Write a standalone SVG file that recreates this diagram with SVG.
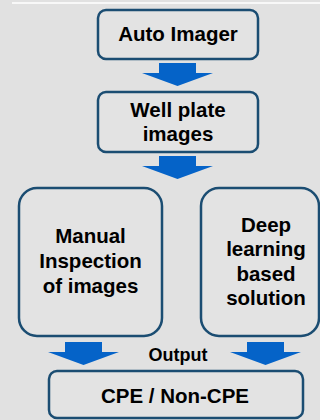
<svg xmlns="http://www.w3.org/2000/svg" width="320" height="420" viewBox="0 0 320 420">
  <style>
    .box { fill: #e3e3e3; stroke: #1b4d72; stroke-width: 2.5; }
    .lbl { font-family: "Liberation Sans", Arial, sans-serif; font-weight: bold; font-size: 20.5px; fill: #000; text-anchor: middle; }
    .arrow { fill: #0563c8; }
  </style>
  <defs>
    <!-- block arrow pointing down, origin at the tip -->
    <path id="down" d="M-18.5,-23 H18.5 V-13 H35.5 L0,0 L-35.5,-13 H-18.5 Z"/>
  </defs>
  <rect width="320" height="420" fill="#e1e1e1"/>
  <line x1="12" y1="3" x2="320" y2="3" stroke="#ffffff" stroke-width="1.5"/>

  <g id="connectors" class="arrow">
    <use href="#down" x="177.5" y="86"/>
    <use href="#down" x="177.5" y="179"/>
    <use href="#down" x="83.5" y="365"/>
    <use href="#down" x="265.5" y="365"/>
  </g>

  <g id="auto-imager">
    <rect class="box" x="98" y="10" width="160" height="49" rx="8"/>
    <text class="lbl" x="178" y="41">Auto Imager</text>
  </g>

  <g id="well-plate">
    <rect class="box" x="98" y="92" width="160" height="60" rx="8"/>
    <text class="lbl" x="178" y="117">Well plate</text>
    <text class="lbl" x="178" y="141">images</text>
  </g>

  <g id="manual-inspection">
    <rect class="box" x="19" y="188" width="143" height="148" rx="18"/>
    <text class="lbl" x="90.5" y="243">Manual</text>
    <text class="lbl" x="90.5" y="268">Inspection</text>
    <text class="lbl" x="90.5" y="293">of images</text>
  </g>

  <g id="deep-learning">
    <rect class="box" x="201" y="188" width="118" height="148" rx="18"/>
    <text class="lbl" x="266" y="232">Deep</text>
    <text class="lbl" x="266" y="256">learning</text>
    <text class="lbl" x="266" y="280.5">based</text>
    <text class="lbl" x="266" y="305">solution</text>
  </g>

  <text class="lbl" x="178" y="361" style="font-size:18px">Output</text>

  <g id="cpe-result">
    <rect class="box" x="49" y="371" width="254" height="47" rx="8"/>
    <text class="lbl" x="175" y="403">CPE / Non-CPE</text>
  </g>
</svg>
